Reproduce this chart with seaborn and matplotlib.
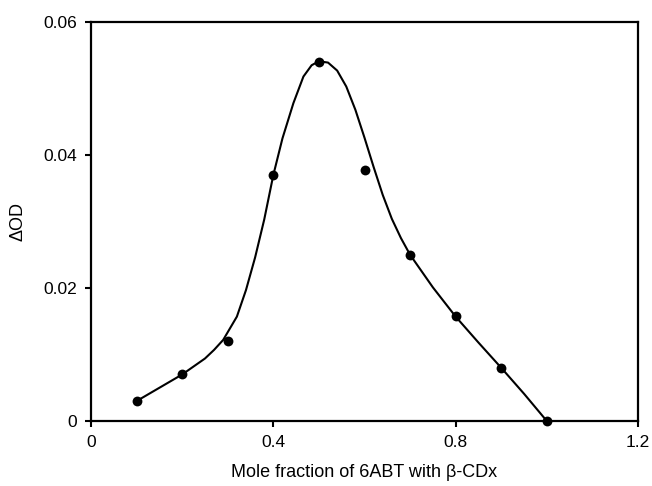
import pandas as pd
import seaborn as sns
import matplotlib.pyplot as plt

# measured points
mole_frac = [0.1, 0.2, 0.3, 0.4, 0.5, 0.6, 0.7, 0.8, 0.9, 1.0]
delta_od = [0.003, 0.007, 0.012, 0.037, 0.054, 0.0378, 0.025, 0.0158, 0.008, 0.0]

# smoothed trend curve
curve_x = [0.1, 0.15, 0.2, 0.25, 0.27, 0.29, 0.32, 0.34, 0.36, 0.38, 0.40, 0.42,
           0.444, 0.466, 0.484, 0.5, 0.52, 0.54, 0.56, 0.58, 0.6, 0.62,
           0.64, 0.66, 0.68, 0.7, 0.75, 0.8, 0.85, 0.9, 0.95, 1.0]
curve_y = [0.003, 0.005, 0.007, 0.0094, 0.0107, 0.0122, 0.0157, 0.0197, 0.0246,
           0.0303, 0.037, 0.0425, 0.0478, 0.0518, 0.0535, 0.0541, 0.0539,
           0.0527, 0.0503, 0.0468, 0.0426, 0.0382, 0.034, 0.0304, 0.0275, 0.025,
           0.0201, 0.0157, 0.0118, 0.008, 0.0041, 0.0]

x_ticks = [0, 0.4, 0.8, 1.2]
x_ticklabels = ["0", "0.4", "0.8", "1.2"]
y_ticks = [0, 0.02, 0.04, 0.06]
y_ticklabels = ["0", "0.02", "0.04", "0.06"]

points = pd.DataFrame({"x": mole_frac, "y": delta_od})
curve = pd.DataFrame({"x": curve_x, "y": curve_y})

sns.set_theme(style="ticks")
plt.rcParams["font.family"] = ["Liberation Sans", "DejaVu Sans"]
plt.rcParams["text.color"] = "black"
plt.rcParams["axes.labelcolor"] = "black"

fig = plt.figure(figsize=(6.52, 4.86), dpi=100)
ax = fig.add_axes([0.1396, 0.1337, 0.8389, 0.8210])

sns.lineplot(data=curve, x="x", y="y", color="black", linewidth=1.5, ax=ax,
             sort=False, estimator=None)
sns.scatterplot(data=points, x="x", y="y", color="black", s=50, edgecolor="black",
                linewidth=0, ax=ax, zorder=3, clip_on=False)

ax.set_xlim(0, 1.2)
ax.set_ylim(0, 0.06)
ax.set_xticks(x_ticks)
ax.set_xticklabels(x_ticklabels)
ax.set_yticks(y_ticks)
ax.set_yticklabels(y_ticklabels)

for sp in ax.spines.values():
    sp.set_linewidth(1.6)
    sp.set_color("black")
ax.tick_params(direction="out", length=4, width=1.5, colors="black",
               labelsize=12.5, pad=6)

ax.set_xlabel("Mole fraction of 6ABT with β-CDx", fontsize=13, labelpad=10)
ax.set_ylabel("ΔOD", fontsize=13, labelpad=12)

fig.savefig("out.png", dpi=100)
